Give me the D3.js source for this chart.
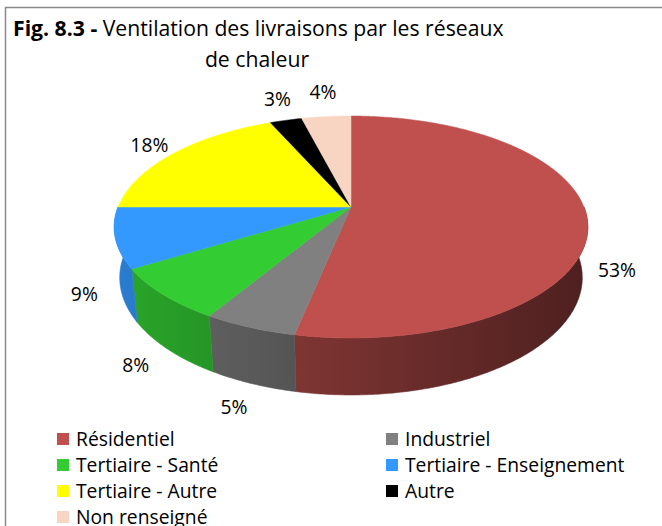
<!DOCTYPE html>
<html>
<head>
<meta charset="utf-8">
<script src="https://cdn.jsdelivr.net/npm/d3@7"></script>
<style>
  html, body { margin: 0; padding: 0; background: #ffffff; }
  svg { display: block; }
  text { font-family: "Open Sans", "Noto Sans", sans-serif; fill: #000; }
</style>
</head>
<body>
<svg id="chart" width="662" height="526"></svg>
<script>
// ---- Data ----
const categories = ["Résidentiel", "Industriel", "Tertiaire - Santé", "Tertiaire - Enseignement", "Tertiaire - Autre", "Autre", "Non renseigné"];
const values = [53.2, 5.4, 7.65, 8.75, 18.4, 2.6, 4.0];
const colors = ["#C0504D", "#808080", "#33CC33", "#3399FF", "#FFFF00", "#000000", "#F8D4C2"];
const titleBold = "Fig. 8.3 - ";
const titleLine1 = "Ventilation des livraisons par les réseaux";
const titleLine2 = "de chaleur";

// ---- Layout ----
const W = 662, H = 526;
const svg = d3.select("#chart");
const FS = 19.3, TFS = 21.2;

// border (chart area frame, cropped on right/bottom)
svg.append("path")
  .attr("d", `M5.5,${H + 5} V7.5 H${W + 5}`)
  .attr("fill", "none").attr("stroke", "#8a8a8a").attr("stroke-width", 1.5);

// title
const t1 = svg.append("text").attr("x", 13).attr("y", 36).style("font-size", TFS + "px");
t1.append("tspan").attr("font-weight", "bold").text(titleBold);
t1.append("tspan").text(titleLine1);
svg.append("text").attr("x", 257).attr("y", 67).attr("text-anchor", "middle")
  .style("font-size", TFS + "px").text(titleLine2);

// ---- 3D perspective projection of the pie ----
const cx = 351, cy = 207;
const sinP = 0.461, cosP = 0.887;  // tilt
const Dist = 4.92, focal = 1146, depth = 0.247;

function proj(theta, r, Y) {
  const X = r * Math.sin(theta), Z = -r * Math.cos(theta);
  const v = Y * cosP - Z * sinP;
  const w = Dist - Z * cosP - Y * sinP;
  return [cx + focal * X / w, cy - focal * v / w];
}

const pie = d3.pie().sort(null).value(d => d)(values);
const fmt = d3.format(".0f");

function arcPts(a, b, r, Y) {
  const n = Math.max(2, Math.ceil(Math.abs(b - a) / 0.01));
  return d3.range(n + 1).map(i => proj(a + (b - a) * i / n, r, Y));
}
const line = d3.line();

// gradient defs for the sides
const defs = svg.append("defs");
const leftX = proj(-Math.PI / 2 - 0.2, 1, 0)[0];
const rightX = proj(Math.PI / 2 + 0.2, 1, 0)[0];
const shade = d3.scaleLinear().domain([leftX, rightX]).range([0.82, 0.40]);
pie.forEach((p, i) => {
  const g = defs.append("linearGradient").attr("id", "side" + i)
    .attr("gradientUnits", "userSpaceOnUse")
    .attr("x1", leftX).attr("x2", rightX).attr("y1", 0).attr("y2", 0);
  const c = d3.rgb(colors[i]);
  [[0, leftX], [1, rightX]].forEach(([off, x]) => {
    const k = shade(x);
    g.append("stop").attr("offset", off)
      .attr("stop-color", d3.rgb(c.r * k, c.g * k, c.b * k).formatHex());
  });
});

// sides (front half only)
const gSide = svg.append("g");
pie.forEach((p, i) => {
  const a = Math.max(p.startAngle, Math.PI / 2);
  const b = Math.min(p.endAngle, 3 * Math.PI / 2);
  if (b <= a) return;
  const pts = arcPts(a, b, 1, 0).concat(arcPts(b, a, 1, -depth));
  gSide.append("path").attr("d", line(pts) + "Z")
    .attr("fill", `url(#side${i})`).attr("stroke", `url(#side${i})`).attr("stroke-width", 0.6);
});

// top faces
const gTop = svg.append("g");
pie.forEach((p, i) => {
  const pts = [proj(0, 0, 0)].concat(arcPts(p.startAngle, p.endAngle, 1, 0));
  gTop.append("path").attr("d", line(pts) + "Z")
    .attr("fill", colors[i]).attr("stroke", colors[i]).attr("stroke-width", 0.5);
});

// data labels (outside end; labels at the very back lifted a little above the rim)
const gLab = svg.append("g");
pie.forEach((p, i) => {
  const m = (p.startAngle + p.endAngle) / 2;
  const back = Math.cos(m);
  const Y = back < 0 ? -depth : 0.075 * Math.pow(back, 4);
  const [x, y] = proj(m, 1.15, Y);
  gLab.append("text").attr("x", x).attr("y", y).attr("dy", "0.36em")
    .attr("text-anchor", "middle").style("font-size", FS + "px")
    .text(fmt(p.value) + "%");
});

// legend
const legX = [57, 386], legY0 = 439, legDY = 26;
const gLeg = svg.append("g");
categories.forEach((c, i) => {
  const col = i % 2, row = Math.floor(i / 2);
  const y = legY0 + row * legDY;
  gLeg.append("rect").attr("x", legX[col]).attr("y", y - 6).attr("width", 12).attr("height", 12)
    .attr("fill", colors[i]);
  gLeg.append("text").attr("x", legX[col] + 19).attr("y", y).attr("dy", "0.36em")
    .style("font-size", FS + "px").text(c);
});
</script>
</body>
</html>
